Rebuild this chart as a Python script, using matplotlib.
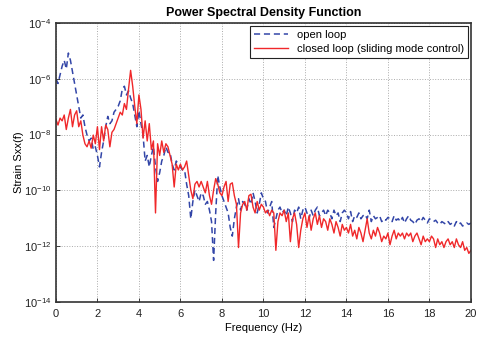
import numpy as np
import matplotlib.pyplot as plt

# frequency axis (Hz), 0.1 Hz steps
freq = np.round(np.arange(0, 20.01, 0.1), 1)

# log10 of PSD
open_loop_log = [
    -6.0, -6.17, -5.86, -5.55, -5.34, -5.65, -5.08, -5.34, -5.75, -6.17,
    -6.58, -6.99, -7.41, -7.3, -7.72, -8.02, -8.23, -8.13, -8.54, -8.44,
    -8.75, -9.16, -8.64, -8.23, -7.72, -7.35, -7.61, -7.51, -7.2, -7.1,
    -6.99, -6.79, -6.37, -6.27, -6.58, -6.43, -6.69, -6.89, -7.3, -7.72,
    -7.15, -7.61, -8.02, -8.95, -8.75, -9.16, -8.75, -8.44, -9.16, -9.68,
    -9.37, -8.95, -8.75, -8.44, -8.64, -8.64, -9.06, -9.27, -8.95, -9.06,
    -9.16, -9.27, -9.27, -9.78, -10.19, -11.02, -10.4, -9.99, -10.19, -10.4,
    -10.09, -10.19, -10.5, -10.4, -10.71, -11.12, -12.51, -10.81, -9.47, -9.88,
    -10.19, -10.4, -10.6, -10.81, -11.33, -11.64, -11.02, -10.6, -10.3, -10.71,
    -10.4, -10.5, -10.71, -10.3, -10.5, -10.09, -10.4, -10.81, -10.5, -10.09,
    -10.3, -10.4, -10.81, -10.6, -10.4, -11.33, -11.02, -10.71, -10.6, -10.81,
    -10.71, -10.91, -10.6, -10.81, -11.12, -10.71, -10.81, -10.6, -11.02, -10.71,
    -10.6, -10.81, -11.02, -10.71, -10.91, -10.71, -10.6, -10.91, -10.81, -10.71,
    -10.91, -10.71, -10.81, -11.02, -10.71, -10.91, -10.81, -11.12, -10.81, -10.71,
    -10.81, -11.02, -10.76, -11.12, -10.91, -10.97, -10.81, -11.02, -10.91, -10.86,
    -11.02, -10.71, -11.12, -10.91, -11.02, -10.97, -10.91, -11.12, -11.02, -11.07,
    -10.97, -11.02, -11.12, -10.91, -11.07, -11.02, -11.12, -10.97, -11.17, -11.02,
    -10.91, -11.07, -11.12, -11.22, -11.07, -11.02, -11.12, -10.97, -11.07, -11.17,
    -11.02, -11.07, -11.12, -11.07, -11.17, -11.22, -11.12, -11.17, -11.22, -11.12,
    -11.22, -11.17, -11.28, -11.12, -11.22, -11.17, -11.28, -11.22, -11.17, -11.22,
    -11.17,
]

closed_loop_log = [
    -7.46, -7.66, -7.41, -7.51, -7.3, -7.82, -7.41, -7.1, -7.72, -7.3,
    -7.15, -7.72, -7.51, -8.02, -8.33, -8.44, -8.23, -8.49, -8.02, -8.33,
    -7.72, -8.54, -7.72, -8.23, -7.66, -7.82, -8.44, -7.92, -7.82, -7.61,
    -7.41, -7.2, -7.3, -6.89, -7.1, -6.37, -5.7, -6.27, -6.99, -7.61,
    -6.58, -7.1, -8.13, -7.51, -8.23, -7.61, -8.54, -8.23, -10.81, -8.33,
    -8.75, -8.23, -8.64, -8.33, -8.44, -8.75, -9.06, -9.88, -9.06, -9.27,
    -9.06, -9.27, -9.16, -8.95, -9.47, -9.99, -10.3, -9.78, -9.68, -9.88,
    -9.68, -9.88, -10.09, -9.68, -10.19, -10.5, -9.99, -9.58, -9.78, -10.09,
    -10.19, -9.88, -9.68, -10.4, -9.78, -9.73, -10.19, -10.5, -12.05, -10.81,
    -10.5, -10.4, -10.71, -10.19, -10.14, -10.6, -10.81, -10.4, -10.71, -10.5,
    -10.6, -10.81, -10.71, -10.91, -10.71, -10.81, -12.15, -11.12, -10.81, -10.91,
    -10.71, -11.12, -10.81, -11.84, -11.02, -10.81, -11.22, -12.05, -11.43, -11.02,
    -10.81, -11.33, -10.91, -11.43, -11.02, -10.81, -11.22, -10.91, -11.33, -11.02,
    -11.12, -11.43, -11.02, -11.22, -11.53, -11.12, -11.33, -11.64, -11.22, -11.43,
    -11.33, -11.53, -11.22, -11.64, -11.43, -11.74, -11.33, -11.53, -11.84, -11.43,
    -11.02, -11.53, -11.74, -11.43, -11.64, -11.33, -11.53, -11.84, -11.64, -11.74,
    -11.53, -11.95, -11.64, -11.43, -11.74, -11.53, -11.64, -11.53, -11.74, -11.53,
    -11.64, -11.53, -11.84, -11.64, -11.53, -11.74, -11.95, -11.64, -11.84, -11.74,
    -11.84, -11.64, -11.74, -12.05, -11.74, -11.95, -11.84, -12.05, -11.84, -11.74,
    -11.95, -11.84, -12.05, -11.74, -11.95, -12.05, -11.84, -12.15, -12.05, -12.26,
    -12.15,
]

ytick_exp = [-14, -12, -10, -8, -6, -4]
xticks = [0, 2, 4, 6, 8, 10, 12, 14, 16, 18, 20]

plt.rcParams['font.family'] = ['Liberation Sans', 'DejaVu Sans']
plt.rcParams['mathtext.fontset'] = 'custom'
plt.rcParams['mathtext.rm'] = 'Liberation Sans'
plt.rcParams['mathtext.default'] = 'regular'
fig = plt.figure(figsize=(4.82, 3.37), dpi=100)
ax = fig.add_axes([0.116, 0.104, 0.861, 0.828])

ax.semilogy(freq, 10.0 ** np.array(open_loop_log), '--', color='#3346a8',
            lw=1.1, dashes=(4, 2.5), label='open loop')
ax.semilogy(freq, 10.0 ** np.array(closed_loop_log), '-', color='#f0282a',
            lw=1.0, label='closed loop (sliding mode control)')

ax.set_xlim(0, 20)
ax.set_ylim(1e-14, 1e-4)
ax.set_xticks(xticks)
ax.set_yticks([10.0 ** e for e in ytick_exp])
ax.set_yticklabels(['$10^{%d}$' % e for e in ytick_exp])
ax.minorticks_off()
ax.tick_params(direction='in', labelsize=8, length=3, width=0.6, colors='#222222')
ax.tick_params(axis='x', pad=5)
ax.grid(True, linestyle=':', color='#aaaaaa', lw=0.7)
for s in ax.spines.values():
    s.set_linewidth(1.2)
    s.set_color('#333333')

ax.set_title('Power Spectral Density Function', fontsize=9, fontweight='bold', pad=5)
ax.set_xlabel('Frequency (Hz)', fontsize=8, labelpad=3)
ax.set_ylabel('Strain Sxx(f)', fontsize=8, labelpad=0)

leg = ax.legend(loc='upper right', fontsize=8, fancybox=False, framealpha=1,
                edgecolor='#222222', handlelength=3.0, borderpad=0.35,
                labelspacing=0.35, borderaxespad=0.3)
leg.get_frame().set_linewidth(0.8)

fig.savefig('out.png', dpi=100)
